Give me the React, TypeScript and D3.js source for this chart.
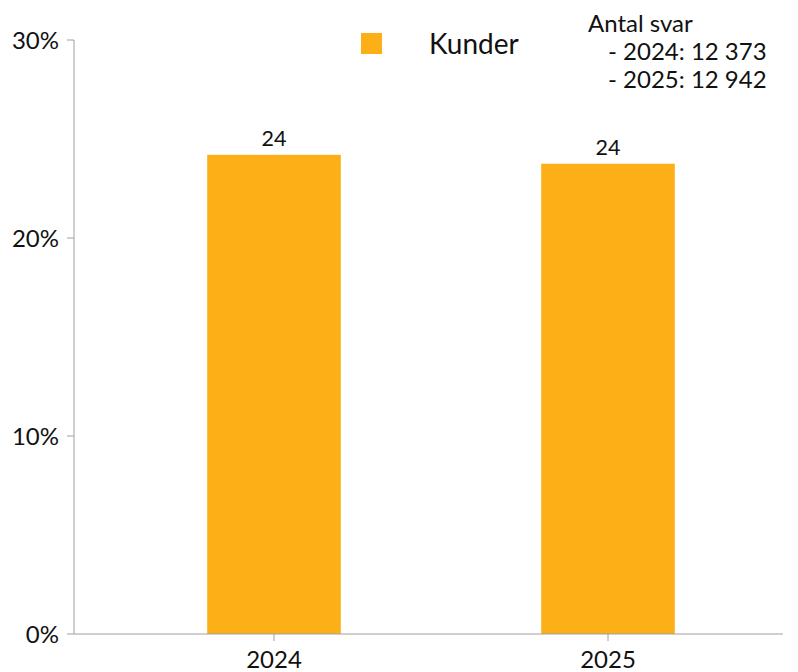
import React from "react";
import * as d3 from "d3";

const categories = ["2024", "2025"];
const values = [24.2, 23.75];
const valueLabels = ["24", "24"];
const yTicks = [0, 10, 20, 30];
const seriesName = "Kunder";
const noteLines = ["Antal svar", "- 2024: 12 373", "- 2025: 12 942"];

const W = 798;
const H = 672;
const FONT = "Lato, 'Open Sans', sans-serif";
const COLOR = "#FCAF17";
const AXIS = "#a0a0a0";

export default function App() {
  const y = d3.scaleLinear().domain([0, 30]).range([634, 40]);
  const x = d3.scaleBand().domain(categories).range([107, 775]).paddingInner(0.6).paddingOuter(0.3);
  return (
    <svg width={W} height={H} style={{ position: "absolute", left: 0, top: 0 }} fontFamily={FONT}>
      {/* y axis */}
      <line x1={74} x2={74} y1={y(30)} y2={y(0)} stroke={AXIS} strokeWidth={1} />
      {yTicks.map((t) => (
        <g key={t}>
          <line x1={67} x2={74} y1={y(t)} y2={y(t)} stroke={AXIS} />
          <text x={59} y={y(t)} dy="0.36em" textAnchor="end" fontSize={24} fill="#111">
            {t}%
          </text>
        </g>
      ))}
      {/* bars */}
      {categories.map((c, i) => (
        <g key={c}>
          <rect x={x(c)} y={y(values[i])} width={x.bandwidth()} height={y(0) - y(values[i])} fill={COLOR} />
          <text x={(x(c) as number) + x.bandwidth() / 2} y={y(values[i]) - 9} textAnchor="middle" fontSize={21.5} fill="#111">
            {valueLabels[i]}
          </text>
        </g>
      ))}
      {/* x axis */}
      <line x1={74} x2={783} y1={y(0)} y2={y(0)} stroke={AXIS} strokeWidth={1} />
      {categories.map((c) => {
        const cx = (x(c) as number) + x.bandwidth() / 2;
        return (
          <g key={c}>
            <line x1={cx} x2={cx} y1={y(0)} y2={y(0) + 7} stroke={AXIS} />
            <text x={cx} y={668} textAnchor="middle" fontSize={24} fill="#111">
              {c}
            </text>
          </g>
        );
      })}
      {/* legend */}
      <rect x={361} y={33} width={21} height={21} fill={COLOR} />
      <text x={429} y={54} fontSize={28} fill="#111">
        {seriesName}
      </text>
      {noteLines.map((l, i) => (
        <text key={i} x={i === 0 ? 588 : 608} y={32 + i * 28} fontSize={24} fill="#111">
          {l}
        </text>
      ))}
    </svg>
  );
}
